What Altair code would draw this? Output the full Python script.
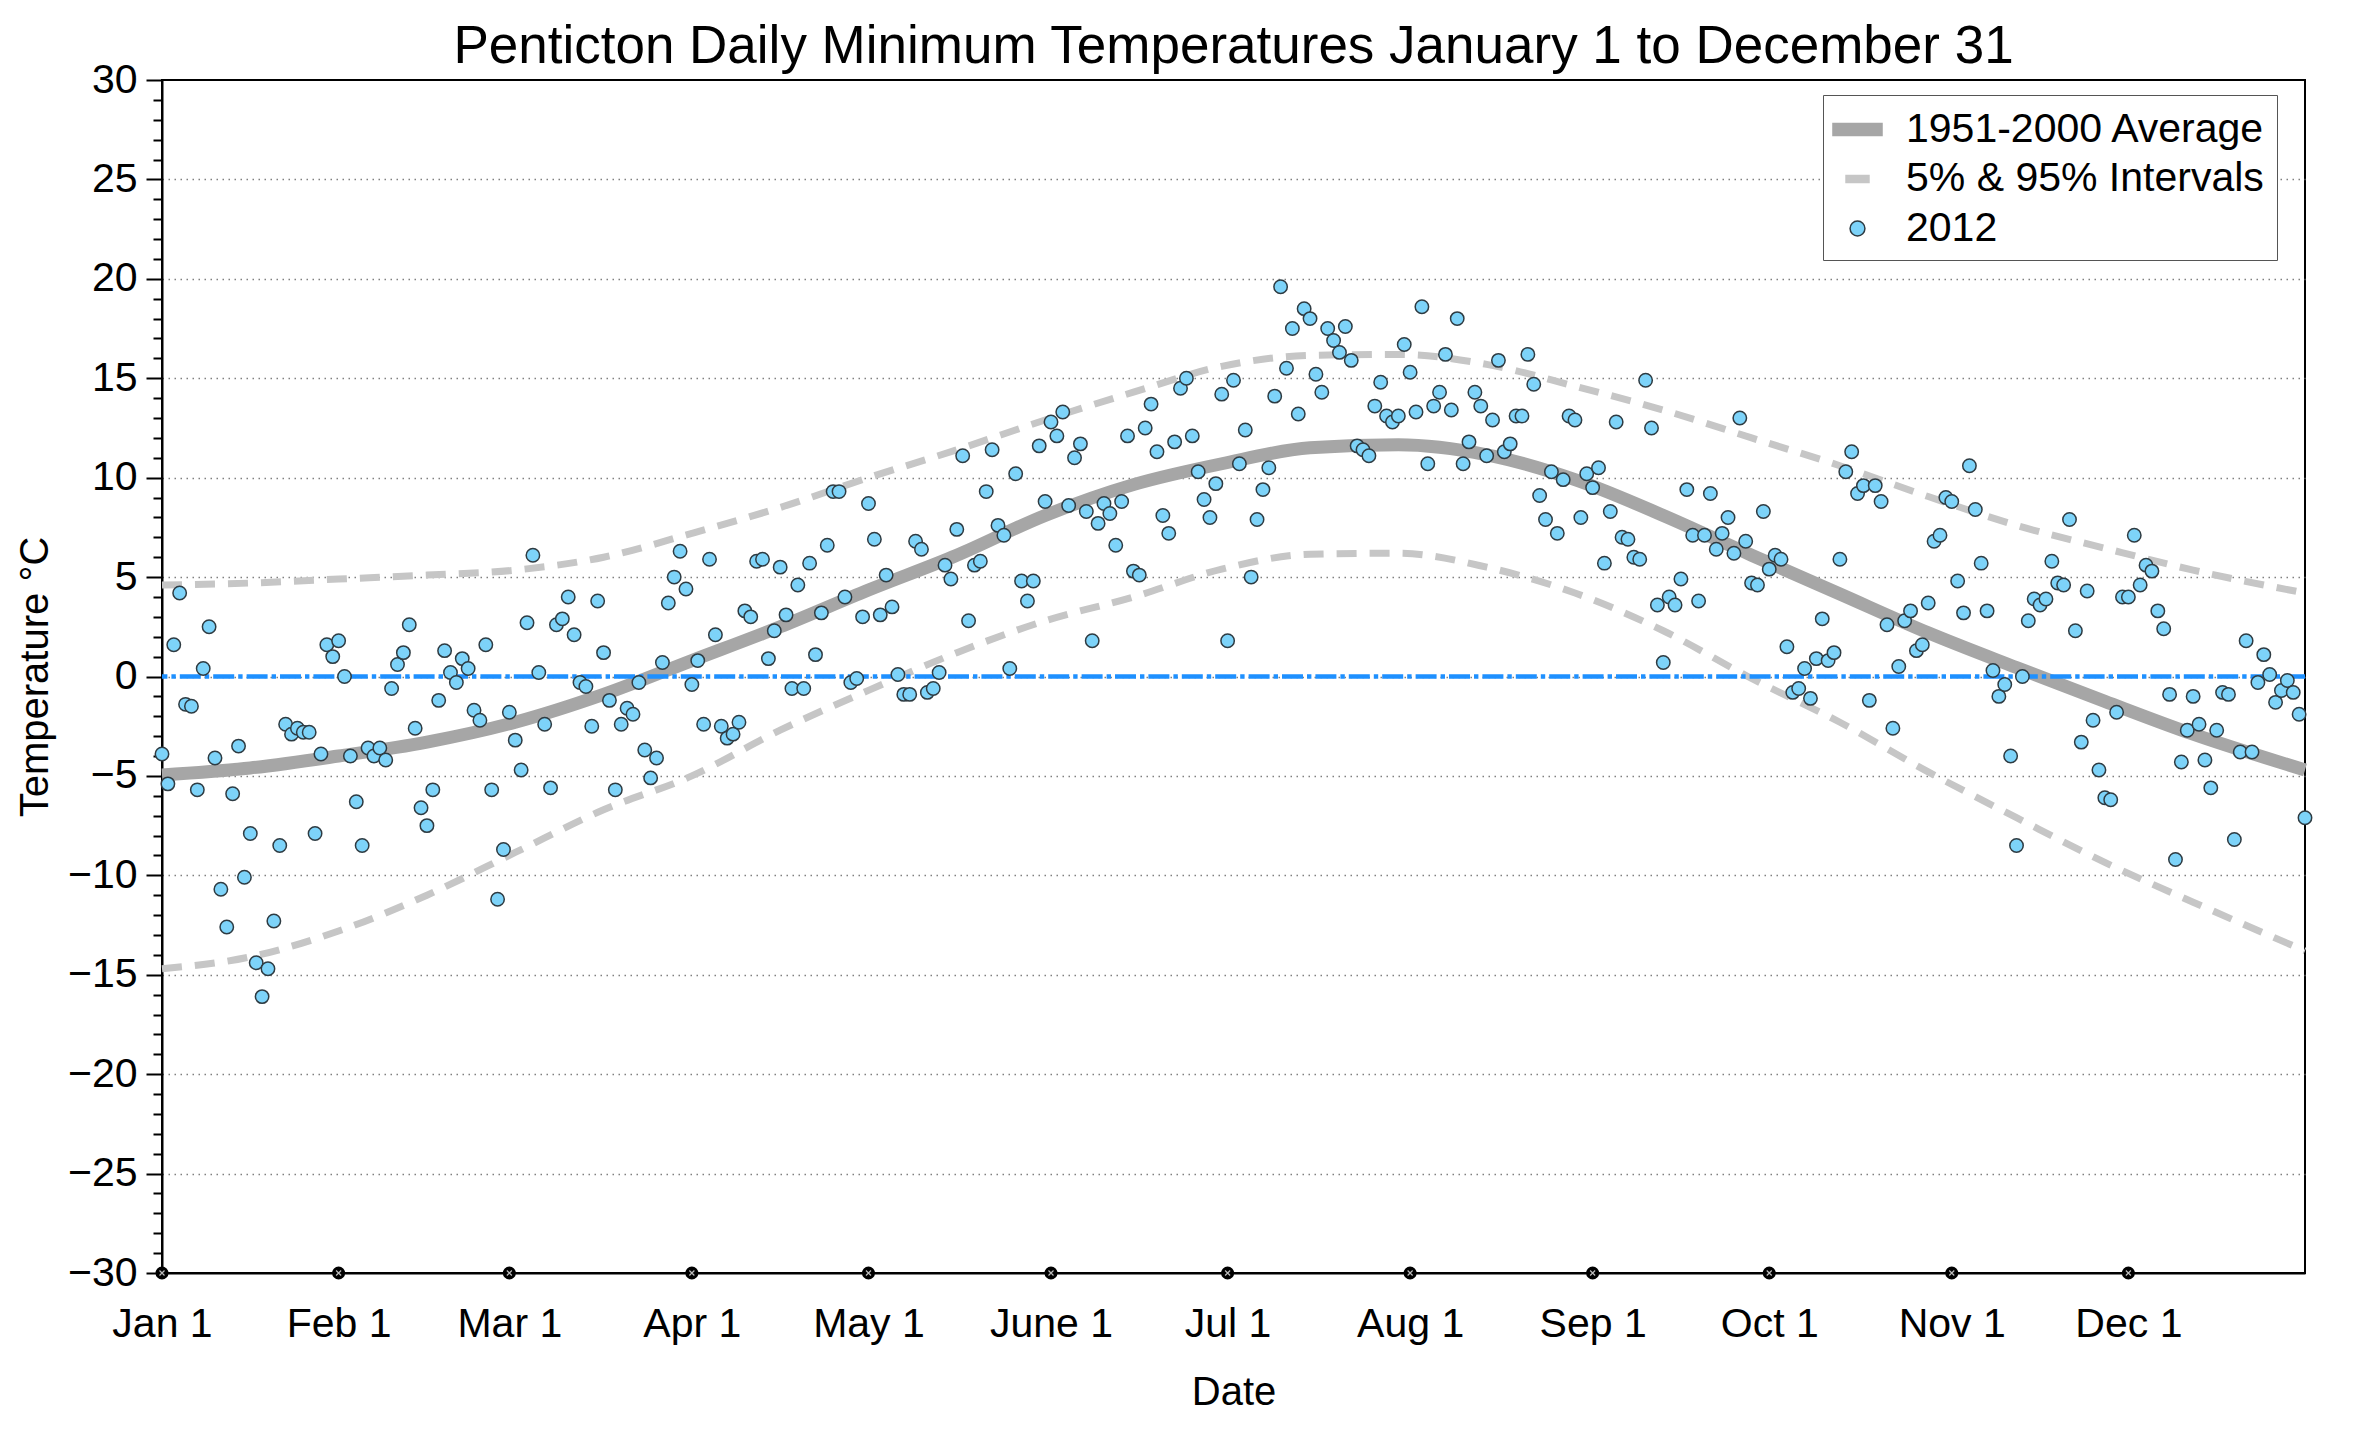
import altair as alt
import pandas as pd

# ---------------- data ----------------
jan = [-3.9, -5.4, 1.6, 4.2, -1.4, -1.5, -5.7, 0.4, 2.5, -4.1, -10.7, -12.6, -5.9, -3.5, -10.1, -7.9,
       -14.4, -16.1, -14.7, -12.3, -8.5, -2.4, -2.9, -2.6, -2.8, -2.8, -7.9, -3.9, 1.6, 1.0, 1.8]
feb = [0.0, -4.0, -6.3, -8.5, -3.6, -4.0, -3.6, -4.2, -0.6, 0.6, 1.2, 2.6, -2.6, -6.6, -7.5, -5.7,
       -1.2, 1.3, 0.2, -0.3, 0.9, 0.4, -1.7, -2.2, 1.6, -5.7, -11.2, -8.7, -1.8]
mar = [-3.2, -4.7, 2.7, 6.1, 0.2, -2.4, -5.6, 2.6, 2.9, 4.0, 2.1, -0.3, -0.5, -2.5, 3.8, 1.2,
       -1.2, -5.7, -2.4, -1.6, -1.9, -0.3, -3.7, -5.1, -4.1, 0.7, 3.7, 5.0, 6.3, 4.4, -0.4]
apr = [0.8, -2.4, 5.9, 2.1, -2.5, -3.1, -2.9, -2.3, 3.3, 3.0, 5.8, 5.9, 0.9, 2.3, 5.5, 3.1,
       -0.6, 4.6, -0.6, 5.7, 1.1, 3.2, 6.6, 9.3, 9.3, 4.0, -0.3, -0.1, 3.0, 8.7]
may = [6.9, 3.1, 5.1, 3.5, 0.1, -0.9, -0.9, 6.8, 6.4, -0.8, -0.6, 0.2, 5.6, 4.9, 7.4, 11.1,
       2.8, 5.6, 5.8, 9.3, 11.4, 7.6, 7.1, 0.4, 10.2, 4.8, 3.8, 4.8, 11.6, 8.8, 12.8]
jun = [12.1, 13.3, 8.6, 11.0, 11.7, 8.3, 1.8, 7.7, 8.7, 8.2, 6.6, 8.8, 12.1, 5.3, 5.1, 12.5,
       13.7, 11.3, 8.1, 7.2, 11.8, 14.5, 15.0, 12.1, 10.3, 8.9, 8.0, 9.7, 14.2, 1.8]
jul = [14.9, 10.7, 12.4, 5.0, 7.9, 9.4, 10.5, 14.1, 19.6, 15.5, 17.5, 13.2, 18.5, 18.0, 15.2, 14.3,
       17.5, 16.9, 16.3, 17.6, 15.9, 11.6, 11.4, 11.1, 13.6, 14.8, 13.1, 12.8, 13.1, 16.7, 15.3]
aug = [13.3, 18.6, 10.7, 13.6, 14.3, 16.2, 13.4, 18.0, 10.7, 11.8, 14.3, 13.6, 11.1, 12.9, 15.9, 11.3,
       11.7, 13.1, 13.1, 16.2, 14.7, 9.1, 7.9, 10.3, 7.2, 9.9, 13.1, 12.9, 8.0, 10.2, 9.5]
sep = [10.5, 5.7, 8.3, 12.8, 7.0, 6.9, 6.0, 5.9, 14.9, 12.5, 3.6, 0.7, 4.0, 3.6, 4.9, 9.4,
       7.1, 3.8, 7.1, 9.2, 6.4, 7.2, 8.0, 6.2, 13.0, 6.8, 4.7, 4.6, 8.3, 5.4]
octo = [6.1, 5.9, 1.5, -0.8, -0.6, 0.4, -1.1, 0.9, 2.9, 0.8, 1.2, 5.9, 10.3, 11.3, 9.2, 9.6,
        -1.2, 9.6, 8.8, 2.6, -2.6, 0.5, 2.8, 3.3, 1.3, 1.6, 3.7, 6.8, 7.1, 9.0, 8.8]
nov = [4.8, 3.2, 10.6, 8.4, 5.7, 3.3, 0.3, -1.0, -0.4, -4.0, -8.5, 0.0, 2.8, 3.9, 3.6, 3.9,
       5.8, 4.7, 4.6, 7.9, 2.3, -3.3, 4.3, -2.2, -4.7, -6.1, -6.2, -1.8, 4.0, 4.0]
dec = [7.1, 4.6, 5.6, 5.3, 3.3, 2.4, -0.9, -9.2, -4.3, -2.7, -1.0, -2.4, -4.2, -5.6, -2.7, -0.8,
       -0.9, -8.2, -3.8, 1.8, -3.8, -0.3, 1.1, 0.1, -1.3, -0.7, -0.2, -0.8, -1.9, -7.1]

curve_days = [0, 15, 30, 45, 60, 75, 90, 105, 120, 135, 150, 165, 180, 195, 210, 225, 240,
              255, 270, 285, 300, 315, 330, 345, 364]
avg_vals = [-4.95, -4.6, -4.0, -3.3, -2.3, -0.9, 0.8, 2.5, 4.35, 6.1, 8.1, 9.65, 10.7, 11.5, 11.65,
            11.15, 9.9, 8.1, 6.1, 4.15, 2.2, 0.45, -1.25, -2.9, -4.7]
p95_vals = [4.6, 4.7, 4.9, 5.1, 5.35, 6.0, 7.2, 8.5, 10.0, 11.4, 12.9, 14.3, 15.6, 16.15, 16.2,
            15.7, 14.6, 13.4, 12.0, 10.6, 9.05, 7.6, 6.45, 5.35, 4.2]
p05_vals = [-14.7, -14.1, -12.8, -11.0, -8.85, -6.7, -5.0, -2.7, -0.7, 1.2, 2.8, 4.0, 5.4, 6.15,
            6.2, 5.5, 4.2, 2.3, -0.1, -2.3, -4.8, -7.1, -9.35, -11.35, -13.8]

month_days = [0, 30, 59, 90, 120, 151, 181, 212, 243, 273, 304, 334]
month_labels = ["Jan 1", "Feb 1", "Mar 1", "Apr 1", "May 1", "June 1", "Jul 1", "Aug 1",
                "Sep 1", "Oct 1", "Nov 1", "Dec 1"]
legend_labels = ["1951-2000 Average", "5% & 95% Intervals", "2012"]
zero_level = [0]
axis_floor = -30

# ---------------- tables ----------------
temps = jan + feb + mar + apr + may + jun + jul + aug + sep + octo + nov + dec
points_df = pd.DataFrame({"day": list(range(len(temps))), "temp": temps})
avg_df = pd.DataFrame({"day": curve_days, "temp": avg_vals})
band_df = pd.concat([
    pd.DataFrame({"day": curve_days, "temp": p95_vals, "band": "p95"}),
    pd.DataFrame({"day": curve_days, "temp": p05_vals, "band": "p05"}),
])
zero_df = pd.DataFrame({"temp": zero_level})
marker_df = pd.DataFrame({"day": month_days, "temp": [axis_floor] * len(month_days)})
legend_df = pd.DataFrame({"series": legend_labels, "day": [0] * 3, "temp": [0] * 3})

FONT = "Liberation Sans"
W, H = 2143, 1193
C_AVG, C_INT, C_PT, C_ZERO = "#a6a6a6", "#c6c6c6", "#7dd3f9", "#1e90ff"

label_expr = "{}[indexof({}, datum.value)]".format(
    "[" + ",".join("'%s'" % s for s in month_labels) + "]",
    "[" + ",".join(str(d) for d in month_days) + "]",
)

x_axis = alt.Axis(values=month_days, labelExpr=label_expr, ticks=False, tickSize=0,
                  labelPadding=31, labelFontSize=41, labelOverlap=False, labelFlush=False,
                  domainColor="black", domainWidth=2, grid=False,
                  title="Date", titleFontSize=40, titleX=W / 2, titleY=131,
                  titleBaseline="alphabetic")
y_axis = alt.Axis(values=list(range(-30, 31)),
                  labelExpr="datum.value % 5 === 0 ? datum.label : ''",
                  tickSize={"condition": {"test": "datum.value % 5 === 0", "value": 16}, "value": 9},
                  tickWidth=2, tickColor="black", domainColor="black", domainWidth=2,
                  grid=True, gridDash=[1.5, 4.5], gridColor="#808080", gridWidth=1.5,
                  gridOpacity={"condition": {"test": "datum.value % 5 === 0 && abs(datum.value) < 30",
                                             "value": 1}, "value": 0},
                  labelFontSize=41, labelPadding=9, labelOverlap=False, labelFlush=False,
                  title="Temperature °C", titleFontSize=40, titleX=-115,
                  titleBaseline="alphabetic")

x_enc = alt.X("day:Q", scale=alt.Scale(domain=[0, 364], nice=False, zero=False), axis=x_axis)
y_enc = alt.Y("temp:Q", scale=alt.Scale(domain=[-30, 30], nice=False, zero=False), axis=y_axis)

bands = alt.Chart(band_df).mark_line(
    color=C_INT, strokeWidth=7, strokeDash=[20, 13], interpolate="monotone", strokeCap="butt"
).encode(x=x_enc, y=y_enc, detail="band:N")

average = alt.Chart(avg_df).mark_line(
    color=C_AVG, strokeWidth=13, interpolate="monotone"
).encode(x=x_enc, y=y_enc)

zero = alt.Chart(zero_df).mark_rule(
    color=C_ZERO, strokeWidth=4.5, strokeDash=[21, 4, 4.4, 4]
).encode(y=y_enc)

points = alt.Chart(points_df).mark_point(
    filled=True, fill=C_PT, stroke="#2e3b42", strokeWidth=1.5, size=180, opacity=1
).encode(x=x_enc, y=y_enc)

markers = alt.Chart(marker_df).mark_point(
    filled=True, color="black", size=170, opacity=1
).encode(x=x_enc, y=y_enc)

marker_x = alt.Chart(marker_df).mark_point(
    shape="M-1,-1L1,1M-1,1L1,-1", filled=False, stroke="#bdbdbd", strokeWidth=1.2, size=25, opacity=1
).encode(x=x_enc, y=y_enc)

sym_avg = "M-1.09,-0.27H1.09V0.27H-1.09Z"
sym_int = "M-0.51,-0.16H0.51V0.16H-0.51Z"
sym_pt = "M0.33,0A0.33,0.33,0,1,1,-0.33,0A0.33,0.33,0,1,1,0.33,0Z"

leg = alt.Legend(title=None, orient="none", legendX=1661, legendY=15,
                 labelFontSize=41, labelFont=FONT, labelColor="black", labelLimit=0,
                 symbolSize=2025, symbolStrokeWidth=1.5, symbolOpacity=1,
                 padding=11, rowPadding=5.5, labelOffset=25,
                 strokeColor="#555555", fillColor="white")

legend_layer = alt.Chart(legend_df).mark_point(filled=True, opacity=0).encode(
    x=x_enc, y=y_enc,
    fill=alt.Fill("series:N", scale=alt.Scale(domain=legend_labels, range=[C_AVG, C_INT, C_PT]), legend=leg),
    stroke=alt.Stroke("series:N", scale=alt.Scale(domain=legend_labels, range=[C_AVG, C_INT, "#2e3b42"]), legend=leg),
    shape=alt.Shape("series:N", scale=alt.Scale(domain=legend_labels, range=[sym_avg, sym_int, sym_pt]), legend=leg),
)

chart = alt.layer(bands, average, zero, points, markers, marker_x, legend_layer).properties(
    width=W, height=H,
    autosize=alt.AutoSizeParams(type="none"),
    padding={"left": 154, "top": 72, "right": 40, "bottom": 150},
    background="white",
    title=alt.Title("Penticton Daily Minimum Temperatures January 1 to December 31",
                    fontSize=53, font=FONT, fontWeight="normal", color="black",
                    anchor="middle", frame="group", baseline="alphabetic", offset=-57),
).configure_view(
    stroke="black", strokeWidth=2
).configure_axis(
    labelFont=FONT, titleFont=FONT, labelColor="black", titleColor="black",
    titleFontWeight="normal"
)

chart.save("out.html", embed_options={"renderer": "svg", "actions": False})
